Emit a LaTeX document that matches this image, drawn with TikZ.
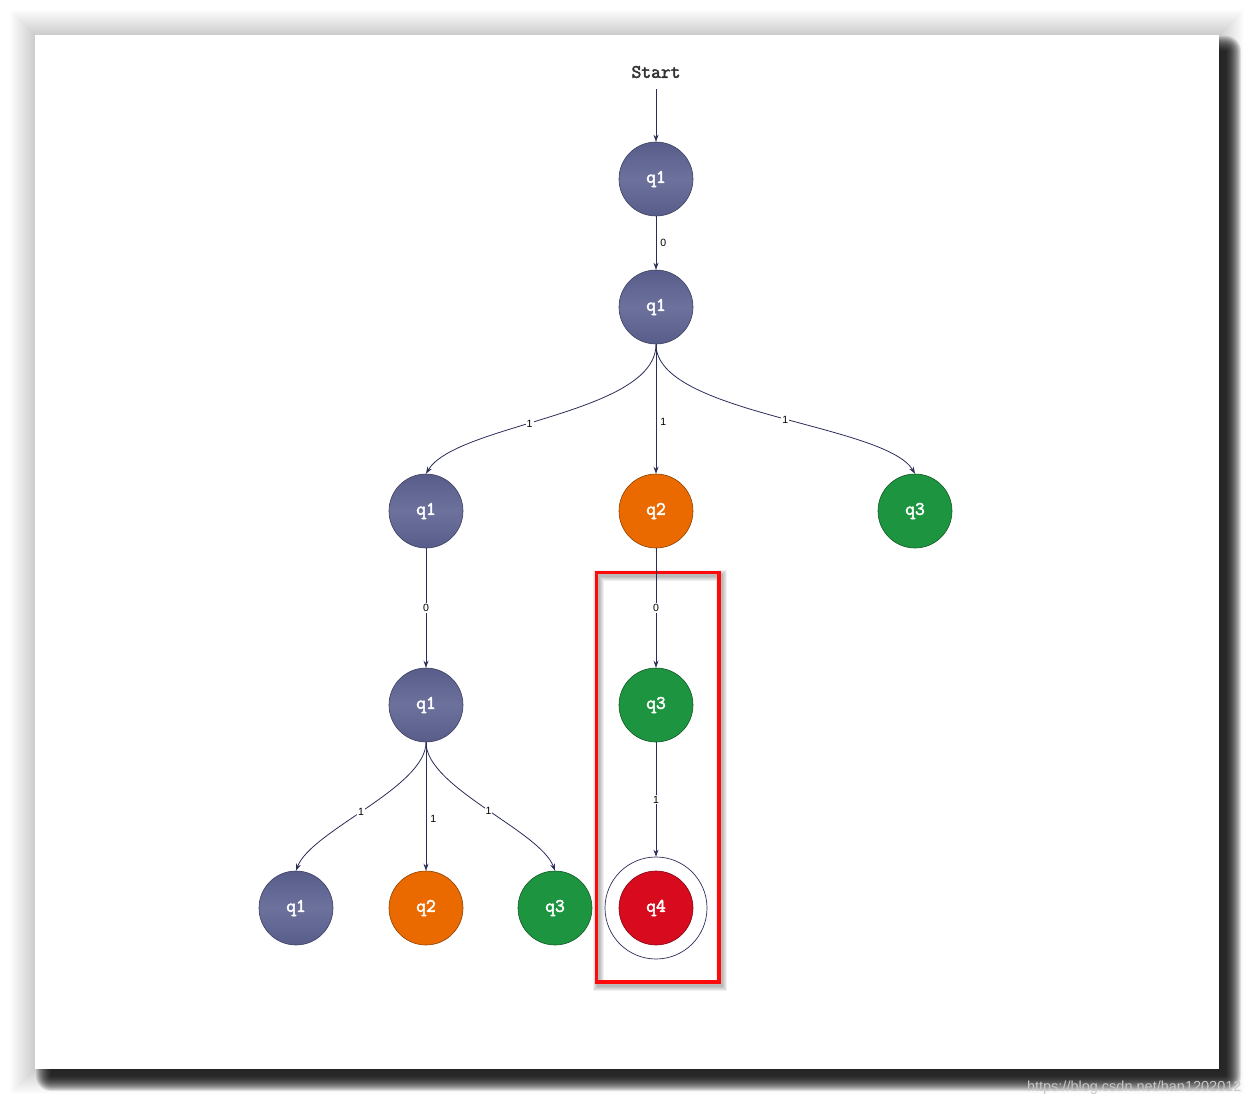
\documentclass[tikz,border=0pt]{standalone}
\usepackage{fontspec}
\setmainfont{Liberation Sans}
\newfontfamily\stmono{Latin Modern Mono}[FakeBold=2.6]
\usetikzlibrary{arrows.meta}
\definecolor{edgec}{HTML}{2B2E58}
\definecolor{blueA}{HTML}{585C8A}
\definecolor{blueB}{HTML}{6C729C}
\definecolor{orangeq}{HTML}{EB6A00}
\definecolor{greenq}{HTML}{1D9440}
\definecolor{redq}{HTML}{D80A1E}
\definecolor{boxred}{HTML}{FF0A0A}
\newcommand\statefont{\stmono\fontsize{19}{19}\selectfont}
\tikzset{
  st/.style={circle, minimum size=74pt, inner sep=0pt, line width=0.6pt,
    font=\statefont, text=white},
  sblue/.style={st, draw=blueA!70!black, top color=blueA, bottom color=blueA, middle color=blueB},
  sorange/.style={st, draw=orangeq!60!black, fill=orangeq},
  sgreen/.style={st, draw=greenq!60!black, fill=greenq},
  sred/.style={st, draw=redq!60!black, fill=redq},
  outerring/.style={circle, minimum size=102pt, inner sep=0pt, draw=edgec, line width=0.7pt},
  e/.style={draw=edgec, line width=0.8pt, -{Stealth[length=7pt,width=5pt]}},
  labon/.style={font=\fontsize{10.5}{10.5}\selectfont, fill=white, inner sep=1pt, text=black},
  labr/.style={font=\fontsize{10.5}{10.5}\selectfont, anchor=west, inner sep=4pt, text=black},
}
\begin{document}
\begin{tikzpicture}[x=1pt,y=-1pt]
\useasboundingbox (0,0) rectangle (1254,1105);
% page shadows
\foreach \k in {1,...,25} {
  \fill[black, opacity=0.007] (35-\k,35-\k) rectangle (1219+\k,1069+\k);
}
\foreach \k in {0,...,15} {
  \fill[black, opacity=0.1, rounded corners=\k pt] (51-\k,51-\k) rectangle (1226+\k,1076+\k);
}
\fill[white] (35,35) rectangle (1219,1069);
% watermark
\node[anchor=base east, font=\fontsize{14.5}{14.5}\selectfont, text=black!22] (wm) at (1245,1091) {https://blog.csdn.net/han1202012};

% red box with soft shadow
\foreach \k in {0,...,4} {
  \draw[black, opacity=0.06, line width=3pt+2*\k pt] (598.5,575) rectangle (721.5,985);
}
\draw[boxred, line width=3.5pt] (596.5,572.5) rectangle (719,982);

% nodes
\node[font=\statefont, text=black!80, inner sep=0pt, outer sep=11pt] (start) at (656,72) {Start};
\node[sblue] (n1) at (656,179) {q1};
\node[sblue] (n2) at (656,307) {q1};
\node[sblue] (a1) at (426,511) {q1};
\node[sorange] (a2) at (656,511) {q2};
\node[sgreen] (a3) at (915,511) {q3};
\node[sblue] (b1) at (426,705) {q1};
\node[sgreen] (b3) at (656,705) {q3};
\node[sblue] (c1) at (296,908) {q1};
\node[sorange] (c2) at (426,908) {q2};
\node[sgreen] (c3) at (555,908) {q3};
\node[outerring] (c4o) at (656,908) {};
\node[sred] (c4) at (656,908) {q4};

% edges
\draw[e] (start.south) -- (n1);
\draw[e] (n1) -- node[labr]{0} (n2);
\draw[e] (n2.south) .. controls +(0,70) and +(30,-50) .. node[labon, pos=0.57]{1} (a1.north);
\draw[e] (n2) -- node[labr, pos=0.6]{1} (a2);
\draw[e] (n2.south) .. controls +(0,70) and +(-30,-50) .. node[labon, pos=0.53]{1} (a3.north);
\draw[e] (a1) -- node[labon]{0} (b1);
\draw[e] (a2) -- node[labon]{0} (b3);
\draw[e] (b3) -- node[labon]{1} (c4o);
\draw[e] (b1.south) .. controls +(0,45) and +(15,-40) .. node[labon, pos=0.53]{1} (c1.north);
\draw[e] (b1) -- node[labr, pos=0.6]{1} (c2);
\draw[e] (b1.south) .. controls +(0,45) and +(-15,-40) .. node[labon, pos=0.52]{1} (c3.north);
\end{tikzpicture}
\end{document}
